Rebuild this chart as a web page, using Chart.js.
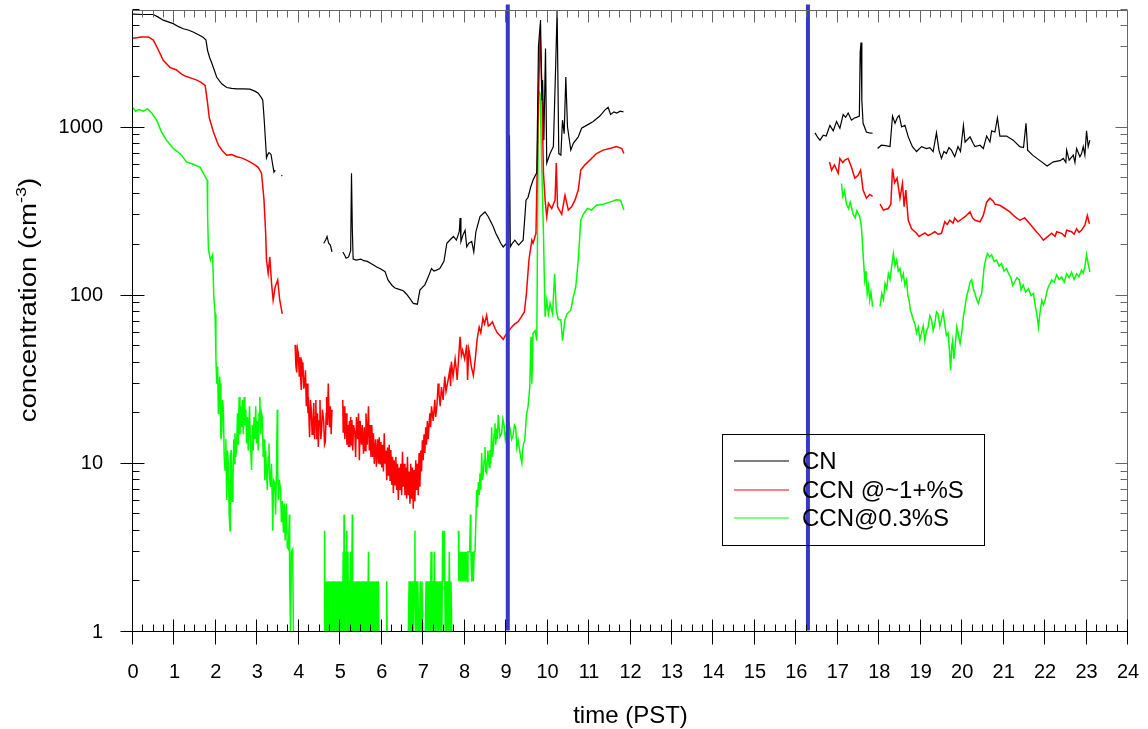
<!DOCTYPE html>
<html>
<head>
<meta charset="utf-8">
<script src="https://cdn.jsdelivr.net/npm/chart.js@4.4.1/dist/chart.umd.min.js"></script>
<style>
  html, body { margin: 0; padding: 0; background: #fff; }
  #wrap { width: 1148px; height: 729px; }
</style>
</head>
<body>
<div id="wrap"><canvas id="myChart" width="1148" height="729"></canvas></div>
<script>
'use strict';

// Axis settings
const xMin = 0;
const xMax = 24;
const yMin = 1;
const yMax = 5000;
const yTickValues = [1, 10, 100, 1000];
const markerTimes = [9.04, 16.28];

const seriesNames = ['CN', 'CCN @~1+%S', 'CCN@0.3%S'];
const seriesColors = ['#000000', '#ff0000', '#00ff00'];

// CN (time in hours PST, concentration in cm-3)
const cnPoints = [
  [0, 4720], [0.25, 4700], [0.49, 4700], [0.6, 4550], [0.73, 4350], [0.85, 4250], [0.97, 4150],
  [1.1, 3980], [1.21, 3870], [1.33, 3800], [1.45, 3700], [1.58, 3560], [1.7, 3430], [1.76, 3310],
  [1.8, 2860], [1.85, 2600], [1.9, 2420], [2.02, 1990], [2.14, 1820], [2.26, 1730], [2.38, 1710],
  [2.5, 1700], [2.65, 1700], [2.82, 1690], [2.95, 1640], [3.02, 1600], [3.1, 1500], [3.13, 1455],
  [3.15, 1250], [3.17, 1060], [3.2, 800], [3.22, 660], [3.25, 690], [3.28, 710], [3.31, 700],
  [3.33, 690], [3.37, 600], [3.4, 543], [3.43, 558], [3.45, null], [3.58, 520], [3.6, 515], [3.62, null],
  [4.6, 205], [4.65, 215], [4.68, 225], [4.72, 205], [4.76, 200], [4.8, 182], [4.85, null],
  [5.06, 182], [5.1, 175], [5.14, 167], [5.2, 170], [5.25, 185], [5.27, 535], [5.29, 250], [5.31, 165],
  [5.38, 163], [5.5, 165], [5.55, 162], [5.65, 160], [5.75, 155], [5.88, 148], [6.0, 143], [6.08, 139],
  [6.15, 124], [6.25, 115], [6.32, 111], [6.42, 109], [6.52, 107], [6.6, 102], [6.68, 96], [6.76, 90],
  [6.86, 89], [6.92, 108], [6.98, 112], [7.04, 116], [7.12, 129], [7.2, 145], [7.26, 140], [7.32, 142],
  [7.4, 145], [7.5, 160], [7.57, 205], [7.65, 215], [7.73, 225], [7.8, 214], [7.87, 240], [7.89, 290],
  [7.91, 210], [7.96, 230], [8.01, 245], [8.05, 195], [8.1, 205], [8.17, 210], [8.22, 182], [8.27, 240],
  [8.37, 295], [8.43, 305], [8.49, 315], [8.57, 295], [8.63, 275], [8.69, 257], [8.75, 235], [8.81, 220],
  [8.87, 205], [8.93, 195], [9.01, 205], [9.06, 210], [9.08, 900], [9.1, 195], [9.15, 205], [9.21, 214],
  [9.3, 200], [9.41, 214], [9.45, 290], [9.48, 370], [9.53, 385], [9.59, 440], [9.65, 487], [9.74, 540],
  [9.78, 3030], [9.83, 4350], [9.86, 1455], [9.88, 1914], [9.91, 841], [9.95, 2950], [9.98, 615],
  [10.06, 700], [10.14, 770], [10.2, 2570], [10.23, 4990], [10.27, 700], [10.32, 685], [10.36, 1106],
  [10.4, 920], [10.44, 2000], [10.48, 1010], [10.56, 734], [10.62, 805], [10.74, 880], [10.82, 990],
  [10.94, 1030], [11.1, 1085], [11.26, 1170], [11.38, 1270], [11.46, 1320], [11.52, 1195], [11.6, 1240],
  [11.67, 1220], [11.75, 1250], [11.83, 1240], [11.86, null],
  [16.45, 930], [16.52, 870], [16.57, 841], [16.65, 900], [16.72, 890], [16.81, 1030], [16.89, 955],
  [16.97, 1085], [17.05, 990], [17.13, 1195], [17.19, 1150], [17.25, 1220], [17.33, 1106], [17.4, 1140],
  [17.45, 1150], [17.52, 1170], [17.54, 2800], [17.56, 3200], [17.58, 1455], [17.61, 1060], [17.69, 940],
  [17.76, 930], [17.84, 925], [17.87, null],
  [17.96, 750], [18.05, 785], [18.15, 780], [18.26, 770], [18.32, 1170], [18.38, 1060], [18.44, 1150],
  [18.48, 1180], [18.54, 1010], [18.62, 1030], [18.7, 880], [18.8, 770], [18.9, 720], [19.02, 770],
  [19.14, 750], [19.22, 760], [19.3, 720], [19.38, 930], [19.44, 734], [19.5, 655], [19.56, 720],
  [19.62, 700], [19.68, 760], [19.74, 734], [19.82, 670], [19.9, 770], [19.96, 720], [20.03, 1030],
  [20.07, 820], [20.19, 880], [20.27, 800], [20.31, 770], [20.43, 785], [20.51, 750], [20.59, 890],
  [20.67, 820], [20.71, 955], [20.79, 940], [20.85, 1140], [20.91, 890], [21.07, 890], [21.23, 841],
  [21.39, 770], [21.48, 760], [21.54, 1060], [21.58, 734], [21.7, 685], [21.86, 640], [22.05, 590],
  [22.2, 625], [22.36, 635], [22.44, 655], [22.5, 620], [22.52, 734], [22.58, 640], [22.68, 685],
  [22.72, 620], [22.76, 750], [22.84, 670], [22.88, 700], [22.92, 770], [22.96, 685], [23.0, 955],
  [23.04, 770], [23.08, 841]
];

// CCN @~1+%S
const ccnHighPoints = [
  [0, 3400], [0.2, 3450], [0.37, 3460], [0.49, 3310], [0.6, 2930], [0.73, 2510], [0.89, 2280],
  [1.05, 2200], [1.17, 2080], [1.29, 2010], [1.42, 1960], [1.54, 1914], [1.65, 1850], [1.74, 1780],
  [1.79, 1455], [1.84, 1140], [1.94, 940], [2.06, 785], [2.15, 730], [2.26, 685], [2.38, 690],
  [2.5, 670], [2.62, 660], [2.74, 640], [2.84, 620], [2.94, 600], [3.02, 580], [3.1, 535], [3.16, 370],
  [3.2, 235], [3.22, 163], [3.26, 136], [3.3, 170], [3.34, 120], [3.38, 94], [3.43, 113], [3.49, 124],
  [3.54, 94], [3.6, 78], [3.62, null],
  [3.91, 51], [3.93, 38], [3.95, 35], [3.97, 48], [3.99, 45], [4.01, 33], [4.03, 43], [4.05, 30],
  [4.06, 27.5], [4.08, 40], [4.1, 38.5], [4.12, 28], [4.14, 30], [4.16, 36], [4.18, 22], [4.2, 30],
  [4.22, 20], [4.23, 25], [4.25, 17], [4.26, 14.4], [4.28, 24], [4.3, 21], [4.32, 15], [4.34, 17],
  [4.36, 23], [4.38, 14], [4.39, 19], [4.41, 24], [4.43, 14], [4.45, 20], [4.47, 12.6], [4.49, 18],
  [4.51, 24], [4.53, 14], [4.55, 15.9], [4.57, 21], [4.6, 18], [4.62, 13], [4.64, 13.5], [4.66, 20],
  [4.67, 25], [4.69, 17], [4.71, 30], [4.73, 19], [4.74, 16.5], [4.76, 22], [4.78, 15], [4.8, 21],
  [4.82, null],
  [5.06, 24], [5.07, 15.3], [5.09, 22], [5.11, 14], [5.14, 20], [5.16, 13], [5.18, 17], [5.2, 12.6],
  [5.22, 18], [5.23, 12.6], [5.25, 19], [5.27, 13], [5.28, 18.2], [5.3, 12], [5.32, 17], [5.35, 15.3],
  [5.37, 11], [5.39, 19], [5.42, 14], [5.44, 20], [5.46, 10.5], [5.48, 18], [5.51, 13], [5.53, 17],
  [5.56, 11.5], [5.58, 16.5], [5.6, 12], [5.62, 20], [5.65, 13], [5.68, 22], [5.7, 12], [5.72, 17],
  [5.74, 11], [5.76, 17], [5.78, 11], [5.8, 15.2], [5.82, 10], [5.85, 14], [5.87, 9.6], [5.9, 14],
  [5.92, 10], [5.94, 14.4], [5.96, 10], [5.98, 13.5], [6.0, 9.5], [6.02, 13], [6.04, 9], [6.06, 15.2],
  [6.08, 10.1], [6.1, 12], [6.12, 8], [6.14, 12.5], [6.16, 8.5], [6.18, 13], [6.2, 8], [6.22, 12.1],
  [6.24, 7.5], [6.26, 11], [6.28, 6.7], [6.3, 10.5], [6.32, 7.5], [6.34, 11], [6.36, 7], [6.38, 10],
  [6.4, 6.1], [6.42, 9.5], [6.44, 7], [6.46, 10], [6.48, 6.5], [6.5, 11.8], [6.52, 7.3], [6.54, 10],
  [6.56, 6.5], [6.58, 9.5], [6.6, 6.2], [6.62, 11], [6.64, 6.5], [6.66, 9], [6.68, 5.8], [6.7, 10],
  [6.72, 6.2], [6.74, 9.5], [6.76, 5.4], [6.78, 9.2], [6.8, 6], [6.82, 10.5], [6.84, 7], [6.86, 10],
  [6.88, 6.5], [6.9, 11.6], [6.92, 7.3], [6.94, 12], [6.96, 9], [6.98, 13.8], [7.0, 10.5], [7.02, 15],
  [7.04, 11.6], [7.06, 16.5], [7.08, 13], [7.1, 18], [7.12, 14], [7.16, 20], [7.18, 16.5], [7.2, 22],
  [7.24, 18], [7.28, 24], [7.3, 19], [7.33, 22], [7.36, 30], [7.38, 26], [7.41, 22], [7.44, 28.6],
  [7.48, 24], [7.52, 33], [7.55, 27], [7.6, 31.5], [7.64, 36], [7.66, 29], [7.68, 40.5], [7.72, 33],
  [7.77, 42], [7.8, 36], [7.82, 31.5], [7.86, 45], [7.89, 57], [7.92, 44], [7.95, 47.5], [8.0, 42],
  [8.05, 51], [8.07, 31.5], [8.1, 48], [8.12, 45], [8.16, 38], [8.21, 33.5], [8.26, 43], [8.3, 55],
  [8.35, 65], [8.39, 60], [8.44, 73.5], [8.48, 68], [8.53, 76.5], [8.57, 66], [8.61, 67], [8.67, 70],
  [8.73, 64], [8.79, 60], [8.85, 58], [8.93, 55], [9.0, 59], [9.05, 61],
  [9.13, 65], [9.21, 68], [9.29, 70], [9.37, 75], [9.44, 80], [9.49, 103], [9.55, 163], [9.62, 214],
  [9.65, 205], [9.72, 235], [9.78, 1455], [9.82, 3700], [9.86, 1830], [9.9, 540], [9.94, 370],
  [9.98, 295], [10.02, 355], [10.1, 330], [10.18, 370], [10.21, 615], [10.24, 338], [10.34, 305],
  [10.42, 395], [10.5, 323], [10.58, 338], [10.66, 370], [10.74, 425], [10.8, 558], [10.9, 600],
  [11.02, 640], [11.18, 700], [11.34, 734], [11.5, 750], [11.66, 770], [11.79, 750], [11.84, 700],
  [11.86, null],
  [16.8, 625], [16.85, 558], [16.92, 600], [17.01, 535], [17.05, 655], [17.12, 620], [17.17, 640],
  [17.25, 655], [17.33, 580], [17.41, 500], [17.49, 520], [17.55, 558], [17.61, 425], [17.69, 380],
  [17.77, 400], [17.84, 390], [17.87, null],
  [18.02, 350], [18.1, 323], [18.22, 330], [18.28, 350], [18.32, 570], [18.37, 470], [18.43, 500],
  [18.5, 380], [18.56, 465], [18.6, 338], [18.64, 425], [18.7, 281], [18.78, 250], [18.86, 240],
  [18.9, 235], [18.96, 225], [19.02, 230], [19.1, 236], [19.18, 228], [19.26, 233], [19.34, 240],
  [19.42, 232], [19.5, 235], [19.58, 275], [19.64, 265], [19.7, 281], [19.78, 270], [19.82, 290],
  [19.9, 275], [19.95, 281], [20.07, 295], [20.19, 315], [20.25, 290], [20.31, 281], [20.43, 275],
  [20.51, 300], [20.59, 360], [20.67, 380], [20.75, 365], [20.79, 350], [20.91, 345], [21.03, 330],
  [21.15, 315], [21.27, 295], [21.39, 281], [21.51, 290], [21.63, 268], [21.76, 245], [21.86, 230],
  [21.96, 214], [22.04, 222], [22.16, 235], [22.24, 225], [22.28, 240], [22.4, 235], [22.48, 225],
  [22.52, 245], [22.64, 240], [22.7, 232], [22.76, 250], [22.82, 238], [22.88, 245], [22.96, 263],
  [23.02, 300], [23.07, 268]
];

// CCN@0.3%S
const ccnLowPoints = [
  [0, 1310], [0.06, 1250], [0.15, 1280], [0.25, 1250], [0.35, 1290], [0.45, 1220], [0.57, 1106],
  [0.69, 940], [0.81, 841], [0.97, 750], [1.07, 720], [1.17, 685], [1.29, 625], [1.45, 605], [1.62, 580],
  [1.74, 510], [1.79, 487], [1.8, 295], [1.82, 187], [1.87, 163], [1.92, 175], [1.95, 98], [1.98, 78],
  [2.0, 43], [2.02, 30], [2.04, 38], [2.06, 20], [2.07, 23], [2.09, 33], [2.1, 30], [2.12, 14],
  [2.14, 15.2], [2.16, 24], [2.18, 21], [2.2, 11], [2.22, 9.2], [2.24, 14], [2.26, 6.1], [2.28, 12],
  [2.3, 10.1], [2.32, 5], [2.34, 4.0], [2.35, 11], [2.37, 12.1], [2.39, 6], [2.41, 7.7], [2.43, 14],
  [2.45, 10], [2.46, 15.2], [2.48, 11], [2.5, 12.6], [2.52, 20], [2.54, 13], [2.56, 25], [2.58, 15],
  [2.6, 22], [2.62, 16.5], [2.64, 24], [2.66, 15], [2.68, 25], [2.7, 17], [2.72, 21], [2.74, 13.2],
  [2.76, 19], [2.78, 12], [2.81, 22], [2.83, 14], [2.86, 9.2], [2.88, 17], [2.9, 12], [2.92, 19],
  [2.94, 14], [2.96, 22], [2.98, 13.2], [3.0, 18], [3.02, 12], [3.04, 20], [3.06, 25], [3.08, 15],
  [3.1, 20], [3.12, 19], [3.14, 11], [3.16, 14], [3.18, 8.0], [3.2, 12], [3.22, 9], [3.24, 7],
  [3.26, 11], [3.28, 13.2], [3.3, 8], [3.32, 7.3], [3.34, 10], [3.36, 6], [3.37, 4.0], [3.39, 8],
  [3.42, 7.7], [3.44, 5], [3.46, 9], [3.48, 21], [3.49, 9], [3.51, 6.1], [3.53, 8], [3.56, 7],
  [3.58, 4.5], [3.6, 6], [3.63, 3.9], [3.65, 5.8], [3.67, 3.5], [3.7, 5.8], [3.72, 3.2], [3.75, 3.1],
  [3.77, 5], [3.78, 1.95], [3.8, 1], [3.82, 3], [3.85, 3.1], [3.87, 1], [3.91, 1], [3.93, null],
  [4.61, 1], [4.62, 4], [4.635, 1], [4.65, 2], [4.665, 1], [4.68, 2], [4.695, 1], [4.71, 2], [4.725, 1],
  [4.74, 2], [4.755, 1], [4.77, 2], [4.785, 1], [4.8, 2], [4.815, 1], [4.83, 2], [4.845, 1], [4.86, 2],
  [4.875, 1], [4.89, 2], [4.905, 1], [4.92, 2], [4.935, 1], [4.95, 2], [4.965, 1], [4.98, 2], [4.995, 1],
  [5.01, 2], [5.025, 1], [5.04, 2], [5.055, 1], [5.07, 3], [5.085, 1], [5.09, 5], [5.1, 2], [5.115, 1],
  [5.13, 3], [5.145, 2], [5.155, 4], [5.17, 1], [5.185, 3], [5.2, 1], [5.215, 2], [5.23, 1], [5.245, 3],
  [5.26, 1], [5.275, 2], [5.29, 5], [5.3, 1], [5.315, 2], [5.33, 1], [5.345, 2], [5.36, 1], [5.375, 2],
  [5.39, 1], [5.405, 2], [5.42, 1], [5.435, 2], [5.45, 1], [5.465, 2], [5.48, 1], [5.495, 2], [5.51, 1],
  [5.525, 2], [5.54, 1], [5.555, 2], [5.57, 1], [5.585, 2], [5.6, 1], [5.615, 2], [5.63, 1], [5.645, 2],
  [5.66, 1], [5.68, 3], [5.695, 1], [5.71, 2], [5.725, 1], [5.74, 2], [5.755, 1], [5.77, 2], [5.785, 1],
  [5.8, 2], [5.815, 1], [5.83, 2], [5.845, 1], [5.86, 2], [5.875, 1], [5.89, 2], [5.905, 1], [5.92, 2],
  [5.935, 1], [5.95, null],
  [6.11, 1], [6.12, 2], [6.13, 1], [6.14, null],
  [6.64, 1], [6.66, 2], [6.68, 1], [6.7, 2], [6.72, 1], [6.74, 2], [6.76, 1], [6.78, 2], [6.8, 4],
  [6.81, 1], [6.83, 2], [6.85, 1], [6.87, 2], [6.89, 1], [6.91, 1], [6.93, 2], [6.95, 1], [6.97, 2],
  [6.99, 1], [7.01, 1], [7.05, 1], [7.07, 2], [7.09, 1], [7.11, 2], [7.13, 1], [7.15, 2], [7.17, 1],
  [7.19, 3], [7.21, 1], [7.23, 2], [7.25, 1], [7.27, 3], [7.29, 1], [7.31, 2], [7.33, 1], [7.35, 2],
  [7.37, 1], [7.39, 2], [7.41, 1], [7.43, 2], [7.45, 1], [7.47, 4], [7.49, 2], [7.51, 4], [7.53, 1],
  [7.55, 2], [7.57, 1], [7.59, 2], [7.61, 1], [7.63, 3], [7.65, 1], [7.67, 2], [7.69, 1], [7.7, null],
  [7.85, 4], [7.86, 2], [7.88, 3], [7.9, 2], [7.92, 3], [7.94, 2], [7.96, 3], [7.98, 2], [8.0, 3],
  [8.02, 2], [8.04, 3], [8.06, 2], [8.08, 3], [8.1, 3], [8.12, 3], [8.14, 5], [8.15, 3], [8.17, 2],
  [8.19, 3], [8.21, 2], [8.23, 3], [8.25, 3], [8.27, 3],
  [8.29, 7], [8.31, 5.5], [8.33, 7.8], [8.35, 6.5], [8.37, 8.8], [8.39, 7], [8.41, 11.6], [8.43, 8],
  [8.45, 8.9], [8.47, 10.5], [8.49, 12.6], [8.51, 9], [8.53, 8.8], [8.56, 12], [8.59, 9.5], [8.61, 12.1],
  [8.63, 10], [8.65, 16.5], [8.67, 11], [8.69, 12.1], [8.71, 15], [8.73, 17.4], [8.75, 13], [8.77, 16.2],
  [8.79, 14], [8.81, 19.5], [8.85, 14.5], [8.89, 15.2], [8.92, 18.5], [8.95, 17], [8.98, 14],
  [9.01, 15.5], [9.05, 18], [9.09, 16.5], [9.13, 14], [9.17, 14.8], [9.2, 17], [9.23, 16.5], [9.26, 12.5],
  [9.29, 13.8], [9.35, 11], [9.38, 10.1], [9.4, 12], [9.42, 13.2], [9.45, 13.8], [9.49, 19.5], [9.53, 22],
  [9.57, 28.6], [9.6, 57], [9.62, 30], [9.65, 60], [9.7, 62], [9.74, 54], [9.78, 1667], [9.82, 1590],
  [9.86, 580], [9.9, 235], [9.94, 75], [9.98, 94],
  [10.02, 78], [10.06, 90], [10.12, 78], [10.17, 135], [10.21, 82], [10.26, 72], [10.32, 72], [10.36, 54],
  [10.42, 72], [10.47, 78], [10.56, 82], [10.62, 98], [10.68, 113], [10.74, 163], [10.8, 281], [10.86, 305],
  [10.96, 330], [11.06, 323], [11.18, 345], [11.34, 350], [11.5, 360], [11.66, 372], [11.76, 370],
  [11.84, 323], [11.86, null],
  [17.09, 465], [17.12, 390], [17.16, 420], [17.21, 350], [17.26, 330], [17.3, 360], [17.37, 305],
  [17.42, 290], [17.46, 320], [17.53, 295], [17.57, 257], [17.61, 178], [17.65, 124], [17.68, 140],
  [17.71, 103], [17.74, 115], [17.77, 94], [17.8, 105], [17.84, 86], [17.87, null],
  [18.02, 86], [18.06, 103], [18.1, 95], [18.14, 118], [18.18, 110], [18.22, 135], [18.26, 125],
  [18.3, 150], [18.34, 178], [18.38, 150], [18.42, 163], [18.46, 140], [18.5, 145], [18.54, 125],
  [18.58, 135], [18.62, 115], [18.66, 124], [18.69, 100], [18.72, 94], [18.75, 82], [18.78, 78],
  [18.82, 72], [18.86, 68], [18.9, 60], [18.94, 65], [18.98, 55], [19.02, 60], [19.06, 66], [19.1, 54],
  [19.14, 62], [19.18, 65], [19.22, 76], [19.26, 72], [19.3, 62], [19.34, 68], [19.38, 80], [19.42, 78],
  [19.46, 66], [19.5, 72], [19.54, 80], [19.58, 68], [19.62, 58], [19.66, 60], [19.7, 45], [19.72, 36],
  [19.75, 50], [19.77, 54], [19.8, 42], [19.83, 50], [19.87, 65], [19.9, 60], [19.95, 52], [19.99, 60],
  [20.03, 75], [20.07, 86], [20.11, 100], [20.15, 108], [20.19, 120], [20.23, 124], [20.27, 110],
  [20.31, 103], [20.35, 95], [20.39, 90], [20.43, 98], [20.47, 103], [20.53, 148], [20.57, 165],
  [20.61, 178], [20.66, 170], [20.71, 175], [20.77, 160], [20.83, 163], [20.89, 150], [20.95, 155],
  [21.01, 140], [21.07, 145], [21.12, 135], [21.17, 129], [21.22, 115], [21.27, 121], [21.32, 128],
  [21.38, 124], [21.42, 108], [21.47, 116], [21.53, 105], [21.6, 110], [21.66, 100], [21.72, 103],
  [21.76, 88], [21.8, 78], [21.84, 65], [21.88, 80], [21.92, 94], [21.96, 88], [22.0, 94], [22.04, 105],
  [22.08, 113], [22.12, 118], [22.16, 124], [22.22, 120], [22.28, 133], [22.34, 125], [22.4, 129],
  [22.46, 120], [22.52, 135], [22.58, 128], [22.64, 138], [22.7, 125], [22.76, 135], [22.82, 130],
  [22.88, 142], [22.92, 136], [22.96, 148], [23.0, 175], [23.04, 155], [23.08, 138]
];

const fontFamily = "'Liberation Sans', Arial, Helvetica, sans-serif";

function toXY(points) {
  return points.map(p => ({ x: p[0], y: p[1] }));
}

// no extra label padding around the plot area
function fitScale(scale, size) {
  if (scale.isHorizontal()) {
    scale.height = size;
  } else {
    scale.width = size;
  }
  scale.paddingTop = 0;
  scale.paddingBottom = 0;
  scale.paddingLeft = 0;
  scale.paddingRight = 0;
}

// Frame, inward ticks, titles and boxed legend
const framePlugin = {
  id: 'framePlugin',
  afterDatasetsDraw(chart) {
    const ctx = chart.ctx;
    const area = chart.chartArea;
    const xs = chart.scales.x;
    const ys = chart.scales.y;
    const L = Math.round(area.left) - 0.5;
    const R = Math.round(area.right) - 0.5;
    const T = Math.round(area.top) + 0.5;
    const B = Math.round(area.bottom) - 0.5;

    function seg(x1, y1, x2, y2) {
      ctx.beginPath();
      ctx.moveTo(x1, y1);
      ctx.lineTo(x2, y2);
      ctx.stroke();
    }

    ctx.save();
    ctx.lineWidth = 1;

    // top and right frame (lighter)
    ctx.strokeStyle = '#666';
    seg(L, T, R, T);
    seg(R, T, R, B);

    // top ticks
    for (let i = 0; i <= 96; i++) {
      const px = Math.round(xs.getPixelForValue(i / 4)) - 0.5;
      seg(px, T, px, T + (i % 4 === 0 ? 12 : 7));
    }
    // right ticks
    for (let d = 0; d <= 3; d++) {
      for (let m = 1; m <= 9; m++) {
        const v = m * Math.pow(10, d);
        if (v > yMax) continue;
        const py = Math.round(ys.getPixelForValue(v)) - 0.5;
        seg(R, py, R - (m === 1 ? 12 : 7), py);
      }
    }

    // left and bottom frame
    ctx.strokeStyle = '#000';
    seg(L, T, L, B);
    seg(L, B, R, B);
    for (let i = 0; i <= 96; i++) {
      const px = Math.round(xs.getPixelForValue(i / 4)) - 0.5;
      if (i % 4 === 0) {
        seg(px, B - 12, px, B + 13);
      } else {
        seg(px, B, px, B - 7);
      }
    }
    for (let d = 0; d <= 3; d++) {
      for (let m = 1; m <= 9; m++) {
        const v = m * Math.pow(10, d);
        if (v > yMax) continue;
        const py = Math.round(ys.getPixelForValue(v)) - 0.5;
        if (m === 1) {
          seg(L - 12, py, L + 12, py);
        } else {
          seg(L, py, L + 7, py);
        }
      }
    }

    // axis titles
    ctx.fillStyle = '#000';
    ctx.font = '24px ' + fontFamily;
    ctx.textAlign = 'center';
    ctx.textBaseline = 'middle';
    ctx.fillText('time (PST)', (area.left + area.right) / 2, 716);

    ctx.save();
    ctx.translate(30, 300);
    ctx.rotate(-Math.PI / 2);
    ctx.scale(1.2, 1);
    const mainText = 'concentration (cm';
    const supText = '-3';
    const endText = ')';
    ctx.font = '23px ' + fontFamily;
    const w1 = ctx.measureText(mainText).width;
    const w3 = ctx.measureText(endText).width;
    ctx.font = '15px ' + fontFamily;
    const w2 = ctx.measureText(supText).width;
    const x0 = -(w1 + w2 + w3) / 2;
    ctx.textAlign = 'left';
    ctx.font = '23px ' + fontFamily;
    ctx.fillText(mainText, x0, 0);
    ctx.font = '15px ' + fontFamily;
    ctx.fillText(supText, x0 + w1, -8);
    ctx.font = '23px ' + fontFamily;
    ctx.fillText(endText, x0 + w1 + w2, 0);
    ctx.restore();

    // legend box
    ctx.strokeStyle = '#000';
    ctx.strokeRect(722.5, 434.5, 262, 111);
    const rowY = [461, 490, 518];
    ctx.font = '24px ' + fontFamily;
    ctx.textAlign = 'left';
    ctx.textBaseline = 'middle';
    for (let i = 0; i < seriesNames.length; i++) {
      ctx.strokeStyle = seriesColors[i];
      seg(734, rowY[i], 789, rowY[i]);
      ctx.fillStyle = '#000';
      ctx.fillText(seriesNames[i], 802, rowY[i] + 1);
    }

    ctx.restore();
  }
};

const markerDatasets = markerTimes.map(t => ({
  label: 'marker',
  data: [{ x: t, y: 1.02 }, { x: t, y: 5400 }],
  borderColor: '#3737c8',
  borderWidth: 4,
  clip: false
}));

const ctx = document.getElementById('myChart').getContext('2d');
const myChart = new Chart(ctx, {
  type: 'line',
  data: {
    datasets: markerDatasets.concat([
      { label: seriesNames[0], data: toXY(cnPoints), borderColor: seriesColors[0], borderWidth: 1.2 },
      { label: seriesNames[1], data: toXY(ccnHighPoints), borderColor: seriesColors[1], borderWidth: 1.5 },
      { label: seriesNames[2], data: toXY(ccnLowPoints), borderColor: seriesColors[2], borderWidth: 1.5 }
    ])
  },
  options: {
    responsive: false,
    animation: false,
    layout: { padding: { top: 10, right: 20, left: 0, bottom: 0 } },
    elements: { point: { radius: 0 }, line: { tension: 0 } },
    plugins: {
      legend: { display: false },
      tooltip: { enabled: false }
    },
    scales: {
      x: {
        type: 'linear',
        min: xMin,
        max: xMax,
        grid: { display: false },
        border: { display: false },
        ticks: {
          stepSize: 1,
          padding: 20,
          color: '#000',
          maxRotation: 0,
          autoSkip: false,
          font: { family: fontFamily, size: 20 }
        },
        afterFit: scale => fitScale(scale, 97)
      },
      y: {
        type: 'logarithmic',
        min: yMin,
        max: yMax,
        grid: { display: false },
        border: { display: false },
        ticks: {
          padding: 22,
          color: '#000',
          font: { family: fontFamily, size: 20 },
          callback: value => String(value)
        },
        afterBuildTicks: scale => {
          scale.ticks = yTickValues.map(v => ({ value: v }));
        },
        afterFit: scale => fitScale(scale, 133)
      }
    }
  },
  plugins: [framePlugin]
});
</script>
</body>
</html>
